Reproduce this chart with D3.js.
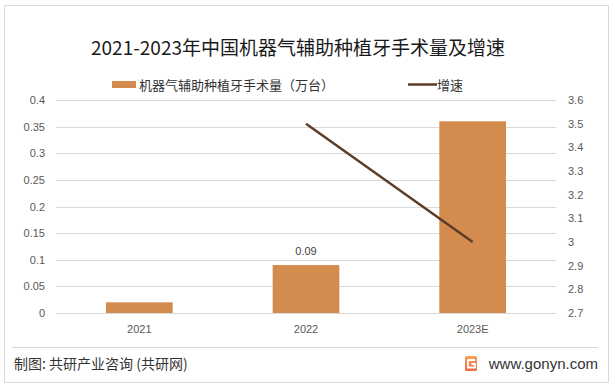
<!DOCTYPE html>
<meta charset="utf-8">
<style>
body { margin: 0; background: #fff; }
svg { display: block; font-family: "Liberation Sans", Arial, "Noto Sans CJK SC", sans-serif; }
.tick text { fill: #595959; font-size: 11px; }
.cn { font-family: "Noto Sans CJK SC", sans-serif; }
</style>
<body>
<script src="https://d3js.org/d3.v7.min.js"></script>
<script>

let years = ["2021", "2022", "2023E"];
let volume = [0.02, 0.09, 0.36];       // 万台
let growth = [null, 3.5, 3.0];          // 增速
let leftTicks = [0, 0.05, 0.1, 0.15, 0.2, 0.25, 0.3, 0.35, 0.4];
let rightTicks = [2.7, 2.8, 2.9, 3, 3.1, 3.2, 3.3, 3.4, 3.5, 3.6];

let width = 615, height = 386;
let plot = {left: 56, right: 556, top: 100, bottom: 313};

let svg = d3.select("body").append("svg")
	.attr("width", width)
	.attr("height", height);

// outer frame
svg.append("rect")
	.attr("x", 4.5).attr("y", 5.5)
	.attr("width", 604).attr("height", 377)
	.attr("fill", "none")
	.attr("stroke", "#d9d9d9");

let x = d3.scaleBand()
	.domain(years)
	.range([plot.left, plot.right])
	.paddingInner(0.6)
	.paddingOuter(0.3);

let xc = d3.scaleBand().domain(years).range([plot.left, plot.right]);

let yL = d3.scaleLinear().domain([0, 0.4]).range([plot.bottom, plot.top]);
let yR = d3.scaleLinear().domain([2.7, 3.6]).range([plot.bottom, plot.top]);

// gridlines
svg.append("g")
	.selectAll("line")
	.data(leftTicks)
	.join("line")
	.attr("x1", plot.left).attr("x2", plot.right)
	.attr("y1", d => Math.round(yL(d)) + 0.5)
	.attr("y2", d => Math.round(yL(d)) + 0.5)
	.attr("stroke", "#d9d9d9");

// left axis
let gl = svg.append("g")
	.attr("transform", "translate(" + (plot.left - 4) + ",0)")
	.call(d3.axisLeft(yL).tickValues(leftTicks).tickSize(0).tickPadding(7).tickFormat(d => d3.format("~g")(d)));
gl.select(".domain").remove();

// right axis
let gr = svg.append("g")
	.attr("transform", "translate(" + (plot.right + 4) + ",0)")
	.call(d3.axisRight(yR).tickValues(rightTicks).tickSize(0).tickPadding(8).tickFormat(d => d3.format("~g")(d)));
gr.select(".domain").remove();

// x axis labels
let gx = svg.append("g")
	.attr("transform", "translate(0," + plot.bottom + ")")
	.call(d3.axisBottom(xc).tickSize(0).tickPadding(12));
gx.select(".domain").remove();
gx.selectAll(".tick text").attr("fill", "#333").style("font-size", "11px");

// bars
svg.append("g")
	.selectAll("rect")
	.data(volume)
	.join("rect")
	.attr("x", (d, i) => x(years[i]))
	.attr("width", x.bandwidth())
	.attr("y", d => yL(d))
	.attr("height", d => yL(0) - yL(d))
	.attr("fill", "#d38b4e");

// data label
svg.append("text")
	.attr("x", x("2022") + x.bandwidth() / 2)
	.attr("y", yL(0.09) - 10)
	.attr("text-anchor", "middle")
	.attr("fill", "#404040")
	.style("font-size", "11px")
	.text("0.09");

// growth line
let line = d3.line()
	.defined(d => d != null)
	.x((d, i) => xc(years[i]) + xc.bandwidth() / 2)
	.y(d => yR(d));

svg.append("path")
	.datum(growth)
	.attr("d", line)
	.attr("fill", "none")
	.attr("stroke", "#5c3d27")
	.attr("stroke-width", 2.5);

// title
svg.append("text")
	.attr("class", "cn")
	.attr("x", 298).attr("y", 55)
	.attr("text-anchor", "middle")
	.attr("fill", "#1a1a1a")
	.style("font-size", "19px")
	.text("2021-2023年中国机器气辅助种植牙手术量及增速");

// legend
let lg = svg.append("g").attr("class", "cn").style("font-size", "13px");
lg.append("rect").attr("x", 112).attr("y", 81).attr("width", 24).attr("height", 7).attr("fill", "#d38b4e");
lg.append("text").attr("x", 139).attr("y", 89.5).attr("fill", "#333").text("机器气辅助种植牙手术量（万台）");
lg.append("line").attr("x1", 408).attr("x2", 437).attr("y1", 84.5).attr("y2", 84.5)
	.attr("stroke", "#5c3d27").attr("stroke-width", 2.5);
lg.append("text").attr("x", 437).attr("y", 89.5).attr("fill", "#333").text("增速");

// footer
svg.append("line")
	.attr("x1", 12).attr("x2", 598)
	.attr("y1", 347.5).attr("y2", 347.5)
	.attr("stroke", "#d9d9d9");

svg.append("text")
	.attr("class", "cn")
	.attr("x", 14).attr("y", 369)
	.attr("fill", "#333")
	.style("font-size", "14px")
	.text("制图: 共研产业咨询 (共研网)");

let grad = svg.append("defs").append("linearGradient")
	.attr("id", "lg").attr("x1", 0).attr("y1", 0).attr("x2", 0).attr("y2", 1);
grad.append("stop").attr("offset", 0).attr("stop-color", "#f7a25a");
grad.append("stop").attr("offset", 1).attr("stop-color", "#ee6a3a");

let logo = svg.append("g").attr("transform", "translate(465,356)");
logo.append("rect").attr("width", 12).attr("height", 15).attr("rx", 1.5).attr("fill", "url(#lg)");
logo.append("path").attr("d", "M2.5,4 H10 M3,4 V11.5 H10 V8 H6.5").attr("stroke", "#fff").attr("stroke-width", 1.8).attr("fill", "none");

svg.append("text")
	.attr("x", 598).attr("y", 368.5)
	.attr("text-anchor", "end")
	.attr("fill", "#333")
	.style("font-size", "15px")
	.text("www.gonyn.com");

</script>
</body>
